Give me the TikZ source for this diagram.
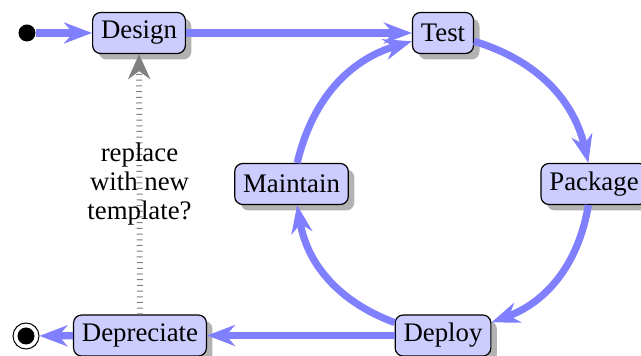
\documentclass[tikz,border=0pt]{standalone}
\usepackage{fontspec}
\setmainfont{Liberation Serif}
\usetikzlibrary{arrows.meta,shadows}
\begin{document}
\begin{tikzpicture}[x=0.5pt,y=-0.5pt,
  state/.style={draw=black, line width=0.6pt, fill=blue!20, rounded corners=4pt,
    inner xsep=4.2pt, minimum height=20.5pt, font=\fontsize{13.4}{14.5}\selectfont,
    drop shadow={shadow xshift=3pt, shadow yshift=-3pt, fill=black, opacity=0.3}},
  flow/.style={draw=blue!50, line width=3.6pt, -{Stealth[length=14pt,width=10.5pt,inset=4.5pt]}},
  back/.style={draw=gray, line width=3pt, dash pattern=on 0.5pt off 2.35pt,
    -{Stealth[length=12.5pt,width=11pt,inset=4pt]}},
  dot/.style={circle, fill=black, minimum size=8.5pt, inner sep=0pt},
  ring/.style={circle, draw=black, line width=0.5pt, minimum size=13pt, inner sep=0pt},
  lbl/.style={align=center, font=\fontsize{13.4}{14.5}\selectfont}
]
\useasboundingbox (0,0) rectangle (641,356);
\node[state] (design) at (139,33) {Design};
\node[state] (test) at (443,33) {Test};
\node[state] (package) at (594,184) {Package};
\node[state] (deploy) at (443,335.5) {Deploy};
\node[state] (maintain) at (291.5,184) {Maintain};
\node[state] (depreciate) at (140,335.5) {Depreciate};
\node[dot] (start) at (27,33) {};
\node[ring] (end) at (26,336) {};
\node[dot] (endin) at (end) {};
\draw[flow] (start) -- (design);
\draw[flow] (design) -- (test);
\draw[flow] (test) to[bend left] (package);
\draw[flow] (package) to[bend left] (deploy);
\draw[flow] (deploy) to[bend left] (maintain);
\draw[flow] (maintain) to[bend left] (test);
\draw[flow] (deploy) -- (depreciate);
\draw[flow] (depreciate) -- (end);
\draw[back] (depreciate) -- node[lbl] {replace\\with new\\template?} (design);
\end{tikzpicture}
\end{document}
